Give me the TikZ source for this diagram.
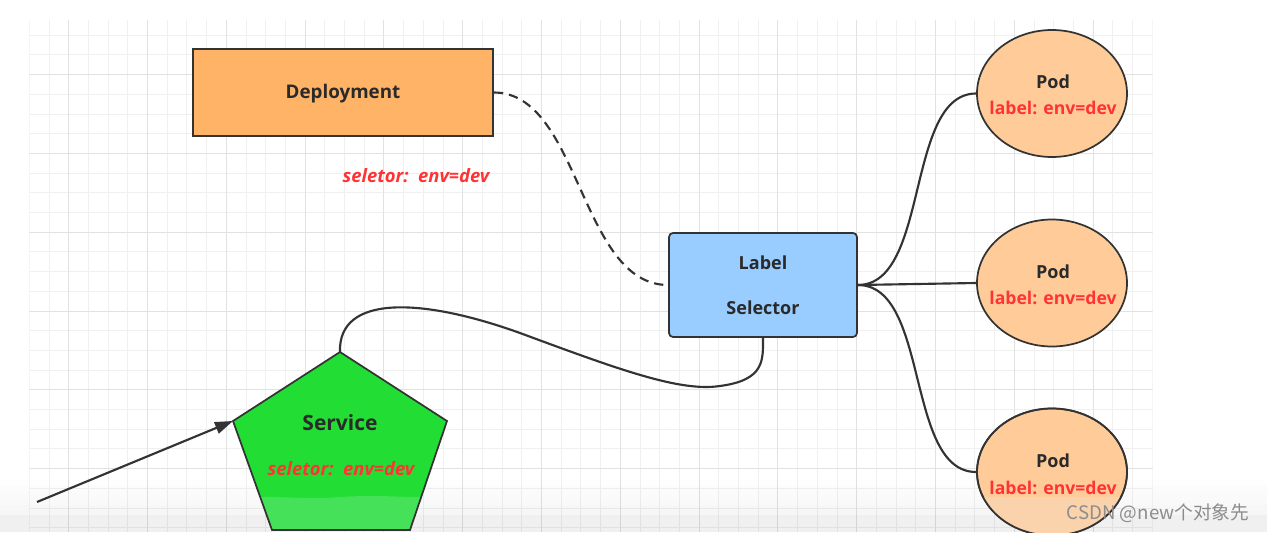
\documentclass[tikz,border=0pt]{standalone}
\usepackage{fontspec}
\setmainfont{Open Sans}
\newfontfamily\cjkfont{Noto Sans CJK SC}
\usetikzlibrary{shapes.geometric,arrows.meta}
\definecolor{ink}{HTML}{333333}
\definecolor{txt}{HTML}{2A2A2A}
\definecolor{redtxt}{HTML}{FF3333}
\definecolor{depfill}{HTML}{FFB366}
\definecolor{lsfill}{HTML}{99CCFF}
\definecolor{podfill}{HTML}{FFCC99}
\definecolor{podband}{HTML}{FAD3AD}
\definecolor{svcfill}{HTML}{22DD33}
\definecolor{svcband}{HTML}{45E158}
\definecolor{gridminor}{HTML}{F0F0F0}
\definecolor{gridmajor}{HTML}{E2E2E2}
\definecolor{wmgray}{HTML}{8C8C8C}
\begin{document}
\begin{tikzpicture}[x=0.75pt,y=-0.75pt,
  box/.style={draw=ink, line width=1.3pt, inner sep=0pt},
  pod/.style={ellipse, draw=ink, line width=1.3pt, fill=podfill, minimum width=112.5pt, minimum height=95.25pt, inner sep=0pt},
  wire/.style={draw=ink, line width=1.6pt},
  maintxt/.style={font=\fontsize{13.5}{16}\selectfont\bfseries, text=txt, inner sep=0pt},
  redlbl/.style={font=\fontsize{13.2}{15}\selectfont\bfseries, text=redtxt, inner sep=0pt},
  seltxt/.style={font=\fontsize{13.8}{16}\selectfont\bfseries\itshape, text=redtxt, inner sep=0pt},
  gminor/.style={draw=gridminor, line width=0.75pt},
  gmajor/.style={draw=gridmajor, line width=0.75pt}]
\useasboundingbox (0,0) rectangle (1267,532);
\fill[white] (0,0) rectangle (1267,532);
% grid
\begin{scope}
\clip (29.3,20) rectangle (1152.5,532);
\foreach \i in {0,...,57} \draw[gminor] ({29.3+19.7*\i},20) -- ({29.3+19.7*\i},532);
\foreach \j in {-3,...,23} \draw[gminor] (29.3,{74.6+19.7*\j}) -- (1152.5,{74.6+19.7*\j});
\foreach \i in {0,...,14} \draw[gmajor] ({68.7+78.8*\i},20) -- ({68.7+78.8*\i},532);
\foreach \j in {-1,...,6} \draw[gmajor] (29.3,{74.6+78.8*\j}) -- (1152.5,{74.6+78.8*\j});
\end{scope}
% bottom shading (screen overlay)
\foreach \k/\o in {0/0.005,1/0.01,2/0.015,3/0.02,4/0.025,5/0.03,6/0.035}
  \fill[black, opacity=\o] (0,{480+5*\k}) rectangle (1267,{485+5*\k});
\fill[black, opacity=0.06] (0,515) rectangle (1267,532);

% Deployment
\node[box, fill=depfill, minimum width=225pt, minimum height=65.25pt] (dep) at (343,92.5) {};
\node[maintxt, font=\fontsize{14.1}{16}\selectfont\bfseries] (deptxt) at (343,94) {Deployment};
\node[seltxt] (depsel) at (416,176) {seletor:\ \ env=dev};

% Label Selector
\node[box, fill=lsfill, rounded corners=3pt, minimum width=141pt, minimum height=78pt] (ls) at (763,285) {};
\node[maintxt] (lst1) at (763,263) {Label};
\node[maintxt] (lst2) at (763,308) {Selector};

% Pods
\node[pod] (pod1) at (1052,93.5) {};
\node[pod] (pod2) at (1052,283) {};
\node[pod] (pod3) at (1052,472) {};
\begin{scope}
\clip (1052,472) ellipse [x radius=75, y radius=63.5];
\fill[podband] (970,497) rectangle (1135,540);
\end{scope}
\draw[ink, line width=1.3pt] (1052,472) ellipse [x radius=75, y radius=63.5];
\node[maintxt] (pod1t) at (1053,82) {Pod};
\node[redlbl] (pod1l) at (1053,108) {label: env=dev};
\node[maintxt] (pod2t) at (1053,272) {Pod};
\node[redlbl] (pod2l) at (1053,298) {label: env=dev};
\node[maintxt] (pod3t) at (1053,461) {Pod};
\node[redlbl] (pod3l) at (1053,488) {label: env=dev};

% Service pentagon
\coordinate (svctop) at (340,352);
\coordinate (svcleft) at (233,421);
\coordinate (src) at (37,502);
\fill[svcfill] (340,352) -- (447,421) -- (410,530) -- (272,530) -- (233,421) -- cycle;
\begin{scope}
\clip (340,352) -- (447,421) -- (410,530) -- (272,530) -- (233,421) -- cycle;
\fill[svcband] (200,498) .. controls (260,494) and (300,500) .. (340,497) .. controls (380,494) and (420,499) .. (460,497) -- (460,540) -- (200,540) -- cycle;
\end{scope}
\draw[ink, line width=1.3pt, line join=miter] (340,352) -- (447,421) -- (410,530) -- (272,530) -- (233,421) -- cycle;
\node[maintxt, font=\fontsize{15.75}{18}\selectfont\bfseries] (svc) at (340,423) {Service};
\node[seltxt] (svcsel) at (341,469) {seletor:\ \ env=dev};

% connectors
\draw[wire, dash pattern=on 7pt off 4.5pt] (dep.east) .. controls (580,92.5) and (580,285) .. (ls.west);
\draw[wire] (svctop) .. controls (338,295) and (420,297) .. (520,333) .. controls (620,370) and (680,392) .. (720,386) .. controls (765,380) and (763,360) .. (ls.south);
\draw[wire] (ls.east) .. controls (930,285) and (905,93.5) .. (pod1.west);
\draw[wire] (ls.east) -- (pod2.west);
\draw[wire] (ls.east) .. controls (930,285) and (905,472) .. (pod3.west);
\draw[wire, -{Triangle[length=13.5pt,width=9pt]}] (src) -- (svcleft);

% watermark
\node[font=\cjkfont\fontsize{14}{16}\selectfont, text=wmgray, inner sep=0pt] (wm) at (1158,513) {CSDN @new个对象先};
\end{tikzpicture}
\end{document}
